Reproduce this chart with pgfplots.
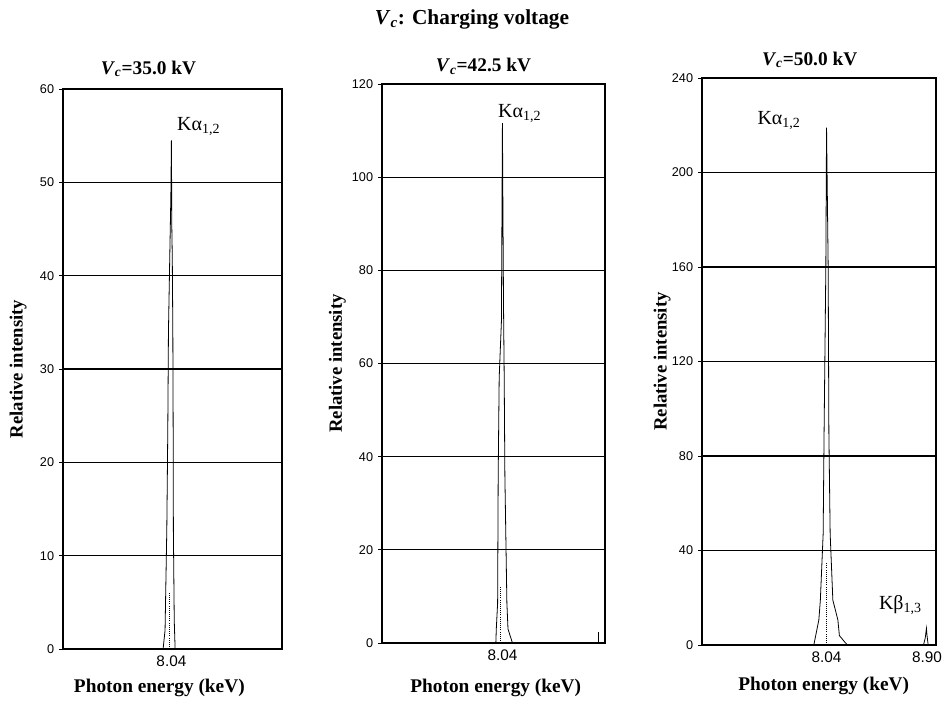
\documentclass[border=0pt]{standalone}
\usepackage{fontspec}
\setmainfont{Liberation Serif}
\setsansfont{Liberation Sans}
\usepackage{pgfplots}
\pgfplotsset{compat=1.18}
\tikzset{
  pk/.style={font=\fontsize{15}{17}\selectfont, anchor=west, inner sep=0pt},
}
\pgfplotsset{
  spec/.style={
    scale only axis,
    anchor=south west,
    axis line style={line width=1.4pt},
    ymin=0,
    ymajorgrids,
    major grid style={black, line width=0.9pt},
    tick align=outside,
    major tick length=3pt,
    ytick pos=left,
    ytick style={black, line width=0.6pt},
    xtick style={draw=none},
    /pgf/number format/assume math mode=true,
    yticklabel style={font=\fontsize{9.5}{11}\selectfont\sffamily, inner sep=3.5pt},
    xticklabel style={font=\fontsize{11.5}{13}\selectfont\sffamily, inner sep=2pt},
    every axis y label/.style={rotate=90, anchor=center, font=\fontsize{14}{16}\selectfont\bfseries},
    every axis x label/.style={anchor=center, font=\fontsize{14.5}{16}\selectfont\bfseries},
    every axis title/.style={anchor=center, font=\fontsize{14.5}{16}\selectfont\bfseries},
    xlabel={Photon energy (keV)},
    ylabel={Relative intensity},
    clip=false,
  },
  trace/.style={black, line width=0.6pt},
  inner/.style={black, densely dotted, line width=0.6pt},
}
\begin{document}
\begin{tikzpicture}
\path[use as bounding box] (0,0) rectangle (708.75pt,525.75pt);
\node[font=\fontsize{16}{18}\selectfont\bfseries] at (354pt,511.5pt) {\textit{V}\textsubscript{\textit{c}}: Charging voltage};

% Panel 1
\begin{axis}[spec,
  at={(47.25pt,39pt)}, width=164.25pt, height=420pt,
  xmin=7.05, xmax=9.05, ymax=60, ytick={0,10,...,60},
  xtick={8.04}, xticklabels={8.04},
  title={\textit{V}\textsubscript{\textit{c}}=35.0 kV},
  title style={at={(axis description cs:0.39,1.036)}},
  xlabel style={at={(axis description cs:0.44,-0.07)}},
  ylabel style={at={(axis description cs:-0.205,0.5)}},
]
\addplot[trace] coordinates {
(7.05,0) (7.964,0) (7.982,2) (7.998,12.8) (8.007,23.5) (8.013,34) (8.025,42) (8.035,48.5) (8.04,54.5)
(8.044,45) (8.048,42) (8.053,34) (8.056,23.5) (8.058,12.8) (8.066,3) (8.074,0) (9.05,0)};
\addplot[inner] coordinates {(8.025,0) (8.025,6)};
\node[pk] at (axis cs:8.09,56) {Kα\textsubscript{1,2}};
\end{axis}

% Panel 2
\begin{axis}[spec,
  at={(286.5pt,43.5pt)}, width=167.25pt, height=419.25pt,
  xmin=6.96, xmax=8.96, ymax=120, ytick={0,20,...,120},
  xtick={8.04}, xticklabels={8.04},
  title={\textit{V}\textsubscript{\textit{c}}=42.5 kV},
  title style={at={(axis description cs:0.455,1.032)}},
  xlabel style={at={(axis description cs:0.51,-0.08)}},
  ylabel style={at={(axis description cs:-0.2,0.5)}},
]
\addplot[trace] coordinates {
(6.96,0) (7.981,0) (7.985,3) (7.997,8.6) (8.002,36) (8.011,57) (8.031,69) (8.04,111.6)
(8.044,95) (8.05,72) (8.056,57) (8.062,36) (8.08,8.6) (8.09,3) (8.13,0) (8.96,0)};
\addplot[inner] coordinates {(8.025,0) (8.025,12)};
\addplot[trace] coordinates {(8.90,0) (8.90,2.3)};
\node[pk] at (axis cs:8.00,113.6) {Kα\textsubscript{1,2}};
\end{axis}

% Panel 3
\begin{axis}[spec,
  at={(526.5pt,42pt)}, width=175.5pt, height=425.25pt,
  xmin=6.974, xmax=8.977, ymax=240, ytick={0,40,...,240},
  xtick={8.04,8.90}, xticklabels={8.04,8.90},
  title={\textit{V}\textsubscript{\textit{c}}=50.0 kV},
  title style={at={(axis description cs:0.46,1.032)}},
  xlabel style={at={(axis description cs:0.52,-0.072)}},
  ylabel style={at={(axis description cs:-0.17,0.5)}},
]
\addplot[trace] coordinates {
(6.974,0) (7.931,0) (7.974,10.6) (7.987,19) (8.011,47) (8.019,90) (8.034,160) (8.04,219)
(8.054,160) (8.06,90) (8.071,47) (8.094,19) (8.137,10.6) (8.15,4) (8.2,1) (8.22,0)
(8.87,0) (8.885,3) (8.895,7) (8.90,4) (8.91,0) (8.977,0)};
\addplot[inner] coordinates {(8.04,0) (8.04,35)};
\node[pk] at (axis cs:7.447,222) {Kα\textsubscript{1,2}};
\node[pk] at (axis cs:8.487,17) {Kβ\textsubscript{1,3}};
\end{axis}
\end{tikzpicture}
\end{document}
